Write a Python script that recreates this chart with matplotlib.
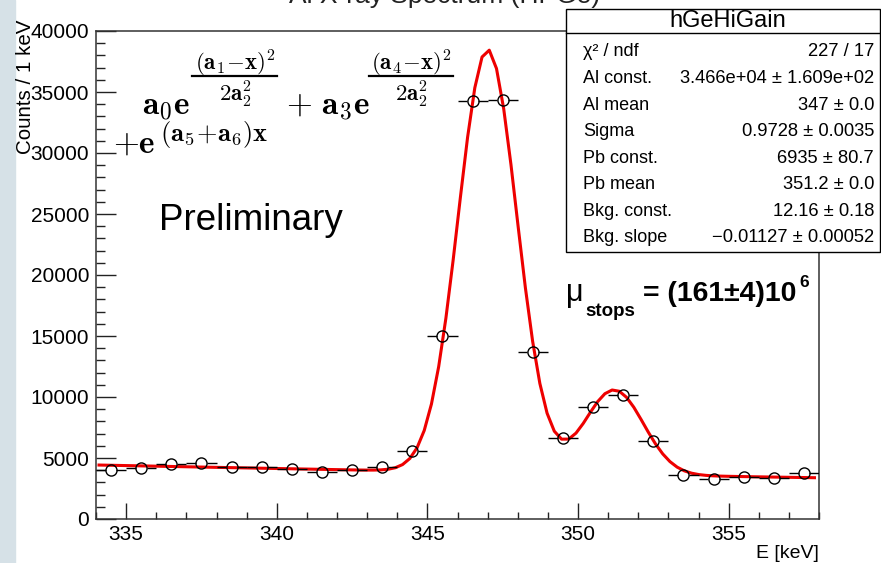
import numpy as np
import matplotlib
matplotlib.use('Agg')
import matplotlib.pyplot as plt
from matplotlib.ticker import MultipleLocator
from matplotlib.patches import Rectangle
from matplotlib.lines import Line2D

plt.rcParams['font.family'] = ['Liberation Sans', 'DejaVu Sans']
plt.rcParams['mathtext.fontset'] = 'cm'

# histogram bins (bin centres, keV) and counts
energy = [334.5, 335.5, 336.5, 337.5, 338.5, 339.5, 340.5, 341.5, 342.5, 343.5,
          344.5, 345.5, 346.5, 347.5, 348.5, 349.5, 350.5, 351.5, 352.5, 353.5,
          354.5, 355.5, 356.5, 357.5]
counts = [4050, 4180, 4500, 4590, 4260, 4260, 4100, 3850, 4000, 4260,
          5570, 15000, 34260, 34340, 13700, 6640, 9180, 10160, 6390, 3600,
          3280, 3440, 3360, 3770]

# fit parameters from the stats box
al_const, al_mean, sigma = 3.466e4, 347.0, 0.9728
pb_const, pb_mean = 6935.0, 351.2
bkg_const, bkg_slope = 12.16, -0.01127

stat_labels = ['\u03c7\u00b2 / ndf', 'Al const.', 'Al mean', 'Sigma', 'Pb const.',
               'Pb mean', 'Bkg. const.', 'Bkg. slope']
stat_values = ['227 / 17', '3.466e+04 \u00b1 1.609e+02', '347 \u00b1 0.0',
               '0.9728 \u00b1 0.0035', '6935 \u00b1 80.7', '351.2 \u00b1 0.0',
               '12.16 \u00b1 0.18', '\u22120.01127 \u00b1 0.00052']

W, H = 881, 563
fx = lambda px: px / W
fy = lambda py: 1 - py / H

fig = plt.figure(figsize=(8.81, 5.63), dpi=100)
fig.patches.append(Rectangle((0, 0), fx(15), 1, transform=fig.transFigure,
                             color='#d6e1e7', zorder=0))

ax = fig.add_axes([fx(96), fy(519), fx(819) - fx(96), fy(31) - fy(519)])
ax.set_xlim(334, 358)
ax.set_ylim(0, 40000)

# fit curve
xf = np.linspace(334.1, 357.85, 100)
yf = (al_const * np.exp(-(xf - al_mean) ** 2 / (2 * sigma ** 2))
      + pb_const * np.exp(-(xf - pb_mean) ** 2 / (2 * sigma ** 2))
      + np.exp(bkg_const + bkg_slope * xf))
ax.plot(xf, yf, color='#ee0000', lw=2.2, zorder=3)

# data points with horizontal bin-width bars
e = np.array(energy)
c = np.array(counts)
gap = 0.18
ax.hlines(c, e - 0.5, e - gap, color='black', lw=1, zorder=4)
ax.hlines(c, e + gap, e + 0.5, color='black', lw=1, zorder=4)
ax.plot(e, c, 'o', mfc='none', mec='black', ms=8, mew=1, zorder=5)

# ROOT style axes
ax.xaxis.set_major_locator(MultipleLocator(5))
ax.xaxis.set_minor_locator(MultipleLocator(1))
ax.yaxis.set_major_locator(MultipleLocator(5000))
ax.yaxis.set_minor_locator(MultipleLocator(1000))
ax.tick_params(which='both', direction='in', top=False, right=False,
               labelsize=15, width=1, color='#222222')
ax.xaxis.set_tick_params(which='major', length=11.5, pad=4)
ax.xaxis.set_tick_params(which='minor', length=5)
ax.yaxis.set_tick_params(which='major', length=14.5, pad=5)
ax.yaxis.set_tick_params(which='minor', length=6.5)
for s in ax.spines.values():
    s.set_color('#333333')
    s.set_linewidth(1.1)

fig.text(fx(819), fy(553), 'E [keV]', ha='right', va='center', fontsize=14)
fig.text(fx(26), fy(20), 'Counts / 1 keV', rotation=90, ha='center', va='top',
         fontsize=14.8)

# title (cut off at the top of the image)
fig.text(fx(445), fy(3.5), 'Al X-ray Spectrum (HPGe)', ha='center', va='baseline',
         fontsize=19, color='#222222', zorder=1)

# formula
fs_big, fs_frac = 24, 16.5
fig.text(fx(142), fy(115), r'$\mathbf{a_0e}$', fontsize=fs_big, va='baseline')
fig.text(fx(235), fy(63), r'$\mathbf{(a_1\!-\!x)^2}$', fontsize=fs_frac,
         ha='center', va='center')
fig.text(fx(235), fy(94), r'$\mathbf{2a_2^2}$', fontsize=fs_frac,
         ha='center', va='center')
fig.lines.append(Line2D([fx(192), fx(277)], [fy(76), fy(76)], color='black',
                        lw=1.6, transform=fig.transFigure))
fig.text(fx(286), fy(115), r'$+\ \mathbf{a_3e}$', fontsize=fs_big, va='baseline')
fig.text(fx(411), fy(63), r'$\mathbf{(a_4\!-\!x)^2}$', fontsize=fs_frac,
         ha='center', va='center')
fig.text(fx(411), fy(94), r'$\mathbf{2a_2^2}$', fontsize=fs_frac,
         ha='center', va='center')
fig.lines.append(Line2D([fx(369), fx(453)], [fy(76), fy(76)], color='black',
                        lw=1.6, transform=fig.transFigure))
fig.text(fx(113), fy(153), r'$+\mathbf{e}$', fontsize=fs_big, va='baseline')
fig.text(fx(160), fy(134), r'$\mathbf{(a_5\!+\!a_6)x}$', fontsize=19,
         va='center')

fig.text(fx(159), fy(230), 'Preliminary', fontsize=26.5, va='baseline')

# mu stops
fig.text(fx(566), fy(301), '\u03bc', fontsize=22, va='baseline')
fig.text(fx(585), fy(316), 'stops', fontsize=13.5, fontweight='bold', va='baseline')
fig.text(fx(643), fy(301), '= (161\u00b14)10', fontsize=20.5, fontweight='bold',
         va='baseline')
fig.text(fx(799), fy(287), '6', fontsize=12.5, fontweight='bold', va='baseline')

# stats box
fig.patches.append(Rectangle((fx(566), fy(252)), fx(880) - fx(566), fy(9) - fy(252),
                             transform=fig.transFigure, facecolor='white',
                             edgecolor='black', lw=1, zorder=10))
fig.lines.append(Line2D([fx(566), fx(880)], [fy(33), fy(33)], color='black', lw=1,
                        transform=fig.transFigure, zorder=11))
fig.text(fx(728), fy(21), 'hGeHiGain', fontsize=17, ha='center', va='center',
         zorder=12)
row_y = np.linspace(52, 238, len(stat_labels))
for yy, lab, val in zip(row_y, stat_labels, stat_values):
    fig.text(fx(583), fy(yy), lab, fontsize=13, ha='left', va='center', zorder=12)
    fig.text(fx(874), fy(yy), val, fontsize=13.2, ha='right', va='center', zorder=12)

fig.savefig('out.png', dpi=100)
